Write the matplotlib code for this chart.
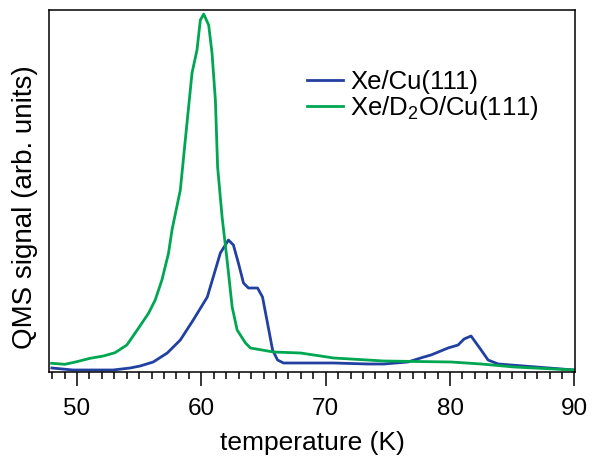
import numpy as np
import matplotlib
matplotlib.use("Agg")
import matplotlib.pyplot as plt
from matplotlib.ticker import MultipleLocator

plt.rcParams['font.family'] = ['Liberation Sans', 'DejaVu Sans']
plt.rcParams['mathtext.default'] = 'regular'

# Xe/Cu(111)
t_cu = [47.98, 49.68, 52.90, 54.27, 55.08, 56.13, 57.26, 58.31, 59.35, 60.48,
        61.53, 62.18, 62.58, 62.98, 63.39, 63.79, 64.52, 64.92, 65.32, 65.73,
        66.13, 66.61, 67.98, 70.65, 73.39, 74.68, 76.61, 77.90, 78.47, 79.84,
        80.65, 81.13, 81.69, 82.50, 83.06, 83.87, 90.0]
s_cu = [4, 2, 2, 4, 6, 10, 19, 32, 52, 75,
        119, 132, 127, 109, 89, 84, 84, 75, 49, 22,
        12, 9, 9, 9, 8, 8, 10, 15, 17, 24,
        27, 33, 36, 22, 12, 8, 2]

# Xe/D2O/Cu(111)
t_d2o = [47.96, 49.03, 49.98, 51.05, 52.12, 53.06, 54.01, 54.94, 55.75, 56.29,
         56.83, 57.36, 57.64, 58.31, 58.71, 59.25, 59.65, 59.92, 60.19, 60.59,
         60.86, 61.13, 61.31, 61.67, 62.07, 62.48, 62.88, 63.55, 63.95, 65.81,
         67.98, 70.65, 74.68, 80.08, 82.50, 85.16, 90.0]
s_d2o = [8.7, 7.7, 10.3, 13.7, 16, 19.3, 27, 43.7, 58.7, 72,
         92, 118.7, 142, 182, 232, 299, 322, 352, 358, 347,
         319, 272, 205, 155, 112, 65, 42, 29, 24, 20,
         19, 14, 11, 10, 8, 5, 2]

labels = ['Xe/Cu(111)', 'Xe/D$_2$O/Cu(111)']
colors = ['#2140a0', '#00a651']

fig = plt.figure(figsize=(5.94, 4.57), dpi=100)
ax = fig.add_axes([0.0825, 0.186, 0.8855, 0.792])

ax.plot(t_cu, s_cu, color=colors[0], lw=2.0, label=labels[0])
ax.plot(t_d2o, s_d2o, color=colors[1], lw=2.0, label=labels[1])

ax.set_xlim(47.75, 90.05)
ax.set_ylim(0, 362)
ax.xaxis.set_major_locator(MultipleLocator(10))
ax.xaxis.set_minor_locator(MultipleLocator(1))
ax.tick_params(axis='x', which='major', direction='out', length=10, width=1.1,
               labelsize=17.5, pad=9)
ax.tick_params(axis='x', which='minor', direction='out', length=5, width=1.1)
ax.set_yticks([])
for sp in ax.spines.values():
    sp.set_linewidth(1.1)

ax.set_xlabel('temperature (K)', fontsize=19, labelpad=8)
ax.set_ylabel('QMS signal (arb. units)', fontsize=20)
ax.yaxis.set_label_coords(-0.021, 0.455)

ax.legend(loc='upper left', bbox_to_anchor=(0.49, 0.834), frameon=False,
          fontsize=18.5, borderpad=0, borderaxespad=0, handlelength=1.4,
          handletextpad=0.3, labelspacing=0.0)

fig.savefig('out.png', dpi=100)
